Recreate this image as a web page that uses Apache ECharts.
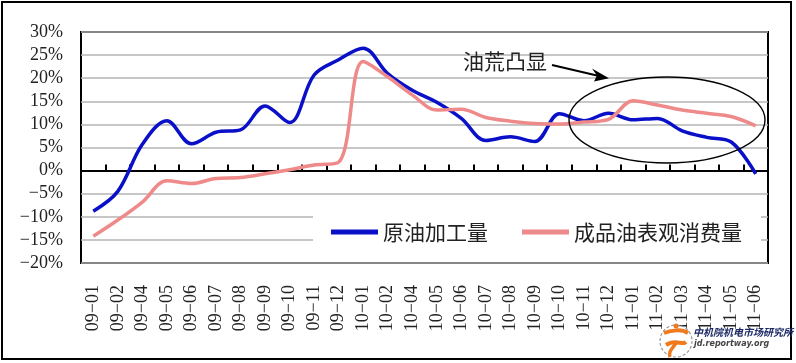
<!DOCTYPE html>
<html><head><meta charset="utf-8">
<script src="https://cdn.jsdelivr.net/npm/echarts@6/dist/echarts.min.js"></script>
<style>html,body{margin:0;padding:0;background:#fff}#c{width:796px;height:363px}</style>
</head><body><div id="c"></div>
<script>
const categories = ['09-01','09-02','09-04','09-05','09-06','09-07','09-08','09-09','09-10','09-11','09-12',
  '10-01','10-02','10-04','10-05','10-06','10-07','10-08','10-09','10-10','10-11','10-12',
  '11-01','11-02','11-03','11-04','11-05','11-06'];
const crudeRuns = [-8.8,-4.5,5.7,10.8,5.8,8.3,8.8,14.0,10.4,20.7,24.0,26.5,21.0,17.4,14.8,11.3,6.5,7.3,6.3,12.3,10.8,12.4,11.0,11.3,8.6,7.2,6.2,-0.7];
const apparentConsumption = [-14.2,-10.7,-6.8,-2.2,-2.8,-1.7,-1.5,-0.7,0.2,1.2,1.8,23.6,20.3,16.4,13.1,13.3,11.5,10.7,10.2,10.1,10.5,11.1,15.1,14.2,13.1,12.4,11.7,9.7];
const seriesNames = ['原油加工量','成品油表观消费量'];
const yTicks = [-20,-15,-10,-5,0,5,10,15,20,25,30];
const annotationText = '油荒凸显';

const serif = '"Liberation Serif","DejaVu Serif",serif';
const cjk = '"Noto Sans CJK SC","Noto Sans",sans-serif';

const chart = echarts.init(document.getElementById('c'), null, {renderer:'canvas'});
chart.setOption({
  animation:false,
  backgroundColor:'#fff',
  grid:{left:81, top:32, right:28, bottom:100, show:true, borderColor:'#000', borderWidth:2, backgroundColor:'transparent'},
  legend:{
    data:seriesNames, left:313, top:203, orient:'horizontal',
    backgroundColor:'#fff', padding:[18,19,18,18],
    itemWidth:47, itemHeight:5, itemGap:34, icon:'rect',
    textStyle:{fontFamily:cjk, fontSize:21, color:'#222', lineHeight:22}
  },
  xAxis:[{
    type:'category', data:categories, boundaryGap:true, position:'bottom',
    axisLine:{show:false, onZero:false}, axisTick:{show:false}, splitLine:{show:false},
    axisLabel:{rotate:90, margin:22, interval:0, fontFamily:serif, fontSize:18, color:'#222',
      formatter:v=>v.replace('-','\u2212')}
  },{
    type:'category', data:categories, boundaryGap:true, position:'bottom',
    axisLine:{show:true, onZero:true, lineStyle:{color:'#000', width:2}},
    axisTick:{show:true, inside:true, length:6, interval:0, lineStyle:{color:'#000', width:2}},
    axisLabel:{show:false}, splitLine:{show:false}
  }],
  yAxis:{
    type:'value', min:yTicks[0], max:yTicks[yTicks.length-1], interval:5,
    axisLine:{show:false}, axisTick:{show:false},
    splitLine:{show:true, lineStyle:{color:'#b4b4b4', width:1.6}},
    axisLabel:{margin:18, fontFamily:serif, fontSize:18, color:'#222',
      formatter:v=>(v<0?'\u2212'+Math.abs(v):v)+'%'}
  },
  series:[{
    name:seriesNames[0], type:'line', xAxisIndex:0, data:crudeRuns, smooth:0.35,
    showSymbol:false, symbol:'none', color:'#0a10c8',
    lineStyle:{color:'#0a10c8', width:3.5}
  },{
    name:seriesNames[1], type:'line', xAxisIndex:0, data:apparentConsumption, smooth:0.35,
    showSymbol:false, symbol:'none', color:'#ef8a8a',
    lineStyle:{color:'#ef8a8a', width:3.5}
  }],
  graphic:[
    {type:'rect', shape:{x:2, y:2, width:789, height:357}, style:{fill:'none', stroke:'#000', lineWidth:2}, z:100},
    {type:'ellipse', shape:{cx:667, cy:120, rx:98, ry:43}, style:{fill:'none', stroke:'#000', lineWidth:1.4}, z:100},
    {type:'text', x:463, y:51, style:{text:annotationText, fontFamily:cjk, fontSize:21, fill:'#222'}, z:100},
    {type:'line', shape:{x1:552, y1:65, x2:598, y2:75.7}, style:{stroke:'#000', lineWidth:2}, z:100},
    {type:'polygon', shape:{points:[[609,78.3],[592,68.5],[597,75.4],[594,81.5]]}, style:{fill:'#000'}, z:100},
    // watermark
    {type:'circle', shape:{cx:676, cy:341, r:16}, style:{fill:'rgba(255,255,255,0.6)', stroke:'#999', lineWidth:1.2, lineDash:[3,2]}, z:100},
    {type:'bezierCurve', shape:{x1:664, y1:333, x2:688, y2:333, cpx1:672, cpy1:330, cpx2:682, cpy2:329}, style:{stroke:'#f07a1e', lineWidth:4, fill:'none'}, z:101},
    {type:'bezierCurve', shape:{x1:666, y1:345, x2:686, y2:342, cpx1:676, cpy1:338, cpx2:682, cpy2:346}, style:{stroke:'#f07a1e', lineWidth:4, fill:'none'}, z:101},
    {type:'bezierCurve', shape:{x1:676, y1:343, x2:670, y2:357, cpx1:672, cpy1:349, cpx2:668, cpy2:352}, style:{stroke:'#f07a1e', lineWidth:3.5, fill:'none'}, z:101},
    {type:'circle', shape:{cx:676, cy:326, r:2.5}, style:{fill:'#f07a1e'}, z:101},
    {type:'text', x:693, y:327, style:{text:'中机院机电市场研究所', fontFamily:cjk, fontSize:10, fontWeight:'bold', fontStyle:'italic', fill:'#1c2a66'}, z:101},
    {type:'text', x:694, y:340, style:{text:'jd.reportway.org', fontFamily:'"DejaVu Sans",sans-serif', fontSize:8, fontWeight:'bold', fontStyle:'italic', fill:'#444'}, z:101}
  ]
});
</script></body></html>
